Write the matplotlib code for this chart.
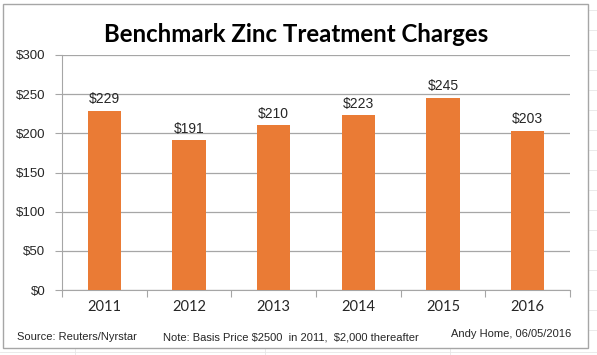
import matplotlib
matplotlib.use("Agg")
import matplotlib.pyplot as plt
from matplotlib.patches import Rectangle
from matplotlib.lines import Line2D

years = ["2011", "2012", "2013", "2014", "2015", "2016"]
charges = [229, 191, 210, 223, 245, 203]
yticks = [0, 50, 100, 150, 200, 250, 300]
title = "Benchmark Zinc Treatment Charges"
source = "Source: Reuters/Nyrstar"
note = r"Note: Basis Price \$2500  in 2011,  \$2,000 thereafter"
author = "Andy Home, 06/05/2016"

W, H = 597, 355
fig = plt.figure(figsize=(W / 100, H / 100), dpi=100)
fig.patch.set_facecolor("white")

def fx(px):
    return px / W

def fy(py):
    return 1 - py / H

# faint spreadsheet grid outside the chart
for x in [75, 265, 450]:
    fig.add_artist(Line2D([fx(x), fx(x)], [0, fy(348)], color="#e6e6e6", lw=0.6, transform=fig.transFigure, zorder=0))
fig.add_artist(Line2D([0, 1], [fy(352), fy(352)], color="#e6e6e6", lw=0.6, transform=fig.transFigure, zorder=0))
for y in range(10, 350, 20):
    fig.add_artist(Line2D([fx(588), 1], [fy(y), fy(y)], color="#e6e6e6", lw=0.6, transform=fig.transFigure, zorder=0))

# chart border
fig.add_artist(Rectangle((fx(3), fy(348)), fx(588) - fx(3), fy(4) - fy(348),
                         transform=fig.transFigure, facecolor="white",
                         edgecolor="#a6a6a6", lw=1.0, zorder=1))

left, right, top, bottom = 62, 570, 55, 290
ax = fig.add_axes([fx(left), fy(bottom), fx(right) - fx(left), fy(top) - fy(bottom)])
ax.set_facecolor("none")
ax.set_zorder(2)

x = list(range(len(years)))
ax.bar(x, charges, width=0.39, color="#EA7B35", zorder=3)
for xi, v in zip(x, charges):
    ax.text(xi, v + 6, f"${v}", ha="center", va="bottom",
            fontsize=10, family="Liberation Sans", color="#262626", zorder=4)

ax.set_xlim(-0.5, len(years) - 0.5)
ax.set_ylim(0, 300)
ax.set_yticks(yticks)
ax.set_yticklabels([f"${t}" for t in yticks], family="Liberation Sans", fontsize=9.5, color="#262626")
ax.yaxis.grid(True, color="#a6a6a6", lw=0.9, zorder=0)
ax.set_axisbelow(True)

ax.set_xticks([i - 0.5 for i in range(len(years) + 1)], minor=False)
ax.set_xticklabels([])
ax.set_xticks(x, minor=True)
ax.set_xticklabels(years, minor=True, family="Lato", fontsize=10.5, color="#262626")
ax.tick_params(axis="x", which="minor", length=0, pad=7)
ax.tick_params(axis="x", which="major", length=5, color="#a6a6a6", direction="out")
ax.tick_params(axis="y", length=5, color="#a6a6a6", pad=7, direction="out")

for s in ["top", "right"]:
    ax.spines[s].set_visible(False)
ax.spines["left"].set_color("#a6a6a6")
ax.spines["bottom"].set_color("#a6a6a6")

fig.text(fx(296), fy(34), title, ha="center", va="center",
         fontsize=17.3, fontweight="bold", family="Lato", color="black", zorder=5)
fig.text(fx(17), fy(337), source, ha="left", va="center", fontsize=8,
         family="Liberation Sans", color="#262626", zorder=5)
fig.text(fx(163), fy(337), note, ha="left", va="center", fontsize=8,
         family="Liberation Sans", color="#262626", zorder=5)
fig.text(fx(571), fy(334), author, ha="right", va="center", fontsize=8,
         family="Liberation Sans", color="#262626", zorder=5)

fig.savefig("out.png", dpi=100)
